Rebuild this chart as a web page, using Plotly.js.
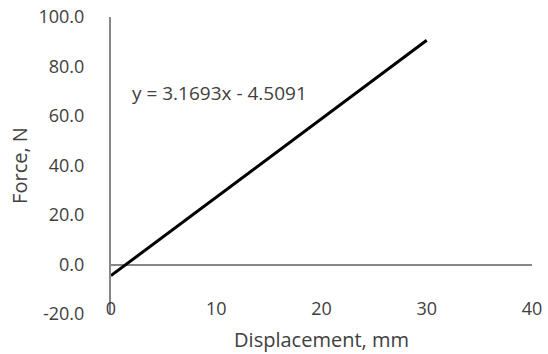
<!DOCTYPE html>
<html><head><meta charset="utf-8">
<script src="https://cdn.plot.ly/plotly-3.0.1.min.js"></script>
<style>html,body{margin:0;padding:0;background:#fff}</style>
</head><body>
<div id="chart" style="width:548px;height:354px"></div>
<script>
const displacement = [0, 10, 20, 30];
const force = [-4.5, 27.2, 58.9, 90.6];
const xTicks = [0, 10, 20, 30, 40];
const yTicks = [-20, 0, 20, 40, 60, 80, 100];
const equationText = 'y = 3.1693x - 4.5091';

const fontFam = '"Open Sans", "Noto Sans", sans-serif';
const txtColor = '#404040';
const axisColor = '#878787';

Plotly.newPlot('chart', [{
  x: displacement, y: force, type: 'scatter', mode: 'lines',
  line: {color: '#000000', width: 3}, hoverinfo: 'skip'
}], {
  width: 548, height: 354,
  margin: {l: 111, r: 16, t: 17, b: 40},
  paper_bgcolor: '#ffffff', plot_bgcolor: '#ffffff',
  showlegend: false,
  font: {family: fontFam, color: txtColor, size: 18},
  xaxis: {
    range: [0, 40], tickvals: xTicks, ticktext: xTicks.map(String),
    showgrid: false, zeroline: false, showline: false, ticks: '',
    ticklabelstandoff: -18,
    tickfont: {size: 18, color: txtColor, family: fontFam},
    title: {text: 'Displacement, mm', font: {size: 20, color: txtColor, family: fontFam}, standoff: 13}
  },
  yaxis: {
    range: [-20, 100], tickvals: yTicks, ticktext: yTicks.map(v => v.toFixed(1)),
    showgrid: false, zeroline: true, zerolinecolor: axisColor, zerolinewidth: 2,
    showline: true, linecolor: axisColor, linewidth: 2, ticks: '',
    ticklabelstandoff: 21,
    tickfont: {size: 18, color: txtColor, family: fontFam},
    title: {text: 'Force, N', font: {size: 20, color: txtColor, family: fontFam}, standoff: 5}
  },
  annotations: [{
    x: 0.045, y: 0.743, xref: 'paper', yref: 'paper', text: equationText,
    showarrow: false, xanchor: 'left', yanchor: 'middle',
    font: {size: 19, color: txtColor, family: fontFam}
  }]
}, {displayModeBar: false, staticPlot: true});
</script>
</body></html>
